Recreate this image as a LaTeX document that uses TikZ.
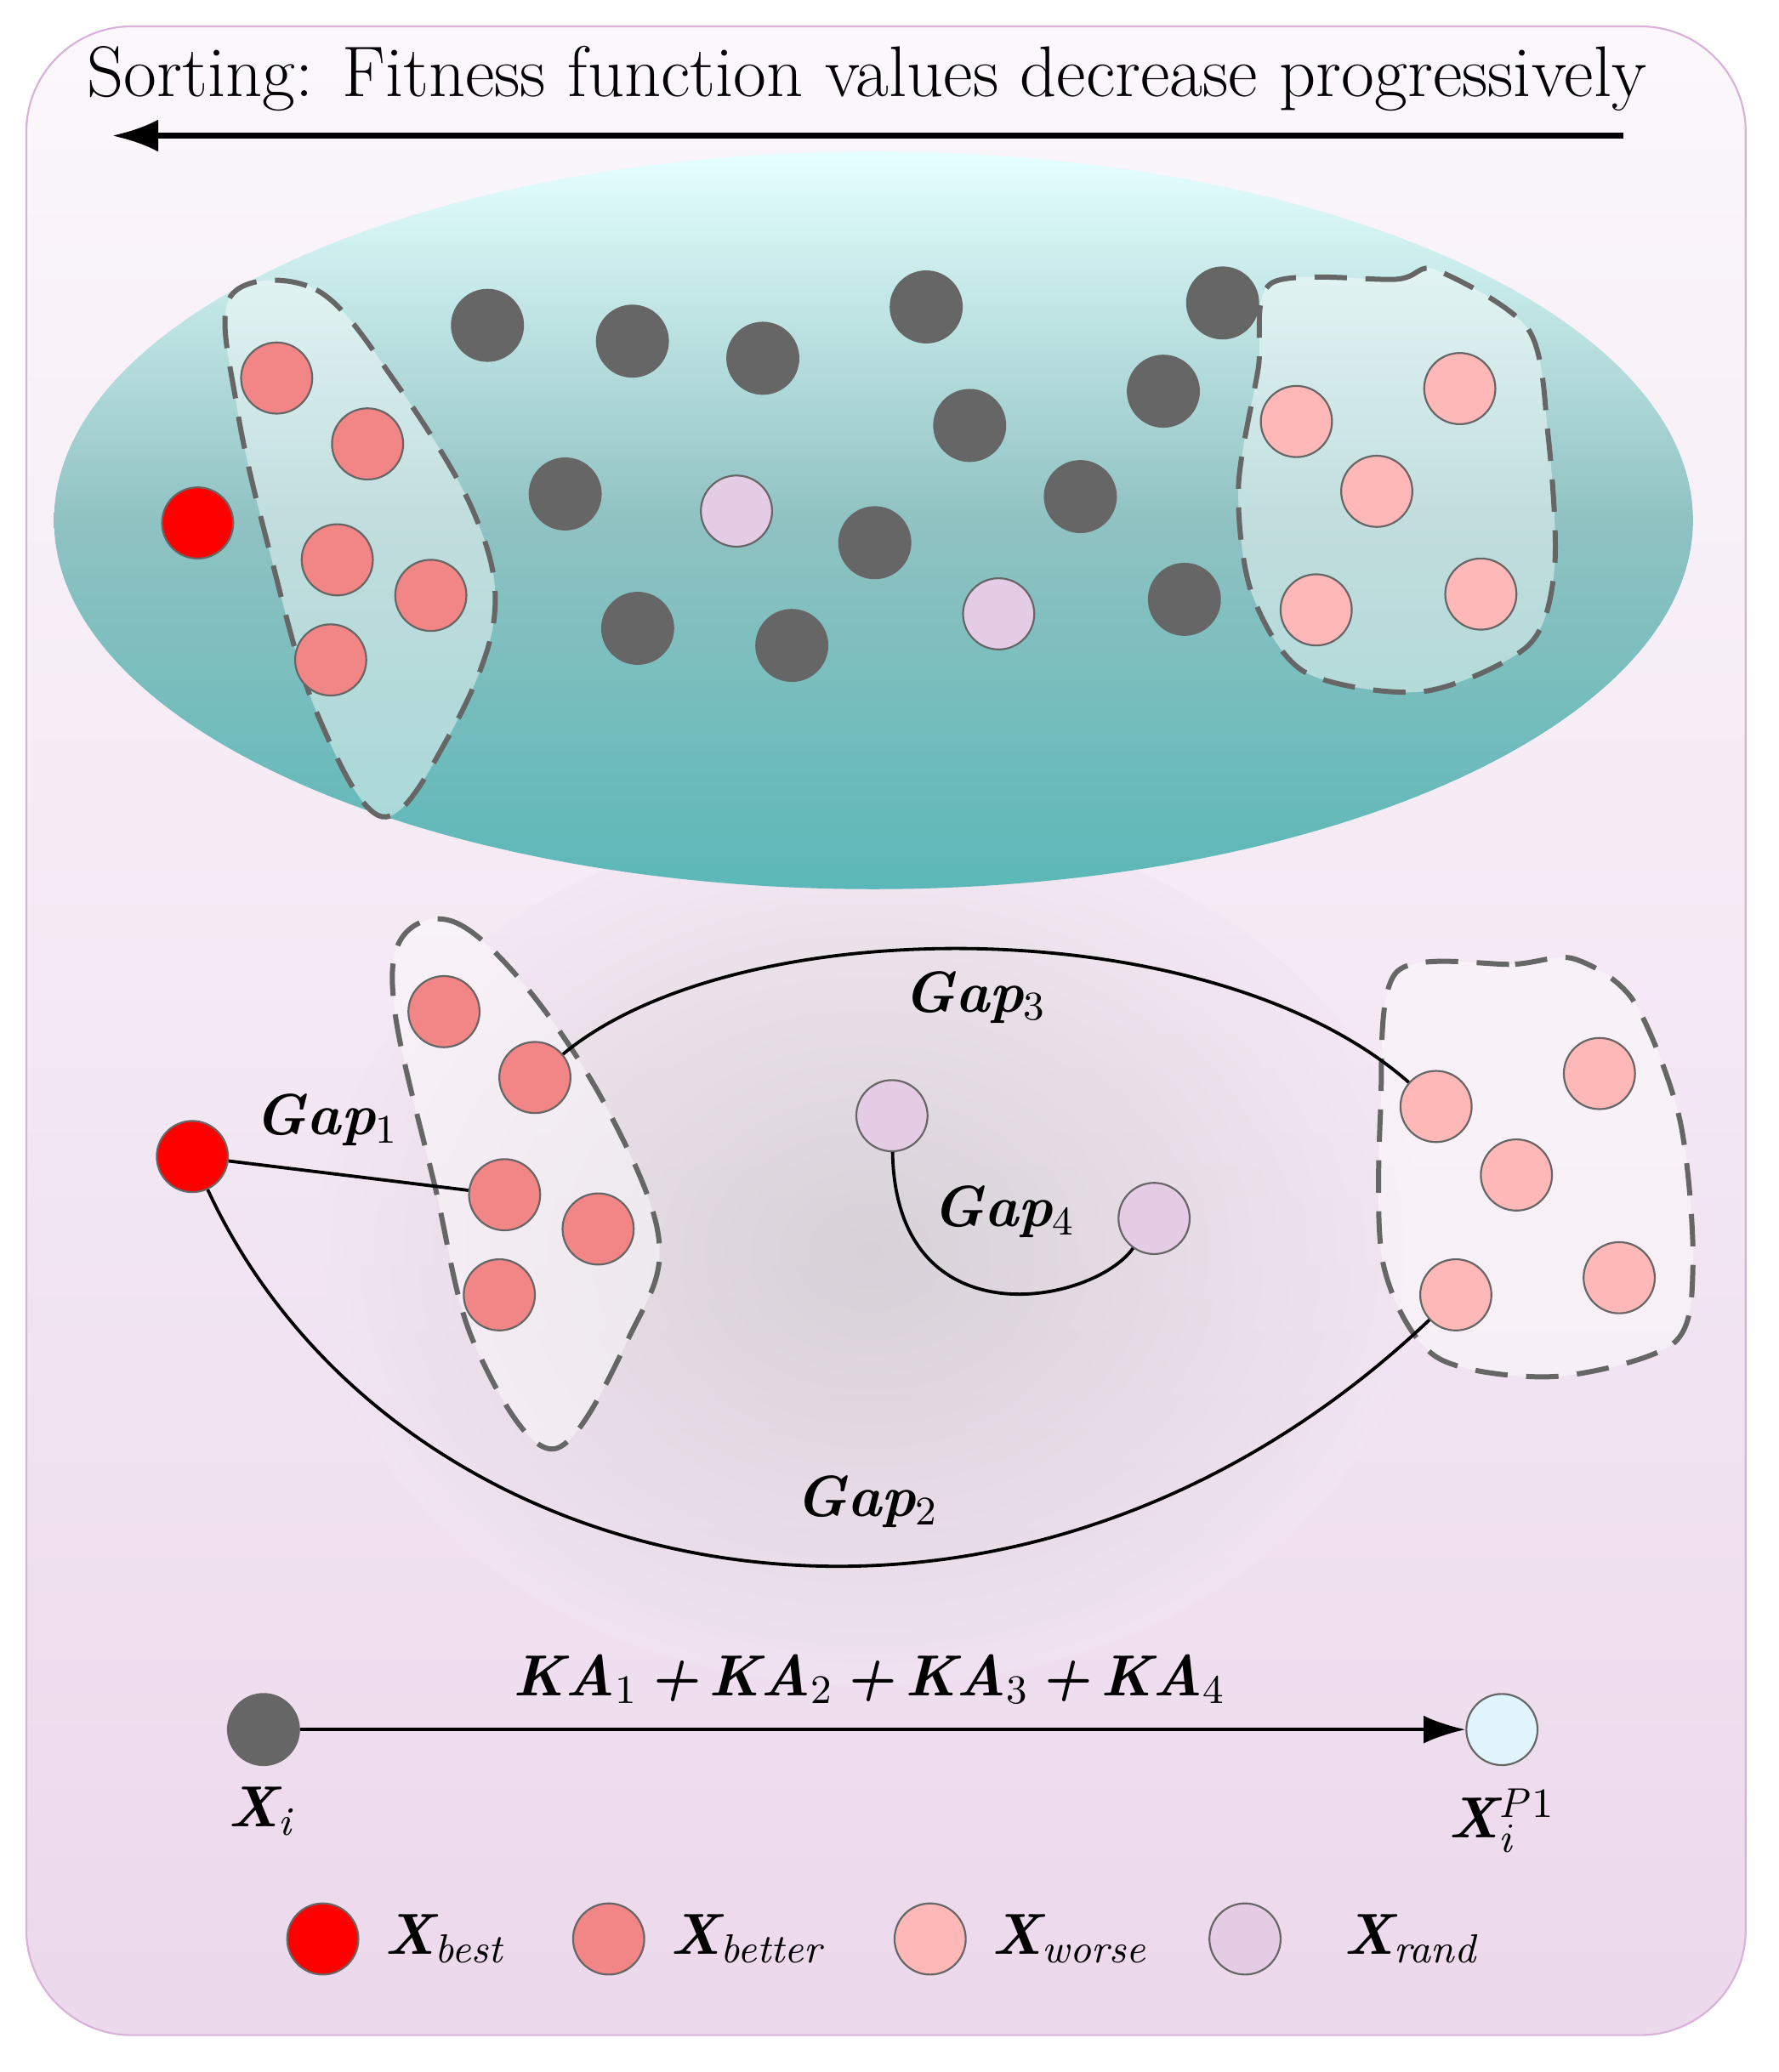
\documentclass[tikz,border=0pt]{standalone}
\usepackage{tikz}
\usetikzlibrary{arrows.meta,positioning,calc}
\begin{document}
\begin{tikzpicture}[x=0.01cm,y=-0.01cm,
  pt/.style={circle, draw=black!60, line width=0.4pt, minimum size=0.54cm, inner sep=0pt},
  best/.style={pt, fill=red},
  better/.style={pt, fill=red!45!white!95!black},
  worse/.style={pt, fill=red!28!white},
  rnd/.style={pt, fill=violet!20!white},
  dark/.style={pt, fill=black!60},
  blob/.style={dashed, dash pattern=on 7pt off 4pt, draw=black!60, line width=1.1pt, fill=white, fill opacity=0.45},
  gap/.style={font=\fontsize{12.5}{15}\selectfont\bfseries\itshape},
  gapline/.style={draw=black, line width=0.7pt}
]
\useasboundingbox (0,0) rectangle (1350,1573);
% frame
\draw[rounded corners=0.8cm, draw=violet!30, top color=white!97!violet, bottom color=violet!15] (20,20) rectangle (1325,1545);
\shade[inner color=black!25, outer color=violet!10, opacity=0.5] (660,950) ellipse (420 and 330);
% title
\node (title) at (658,60) {\fontsize{15.5}{18}\selectfont Sorting: Fitness function values decrease progressively};
\coordinate (sortR) at (1232,103);
\coordinate (sortL) at (85,103);
\draw[-{Latex[length=10pt,width=7pt]}, line width=1.3pt] (sortR) -- (sortL);
% population
\shade[top color=cyan!10, bottom color=cyan!50!teal!60!gray!80, middle color=cyan!45!teal!45!gray!60] (663,395) ellipse (622 and 280);
\draw[blob] plot[smooth cycle, tension=0.6] coordinates {(175,225) (240,220) (300,290) (360,390) (375,470) (340,560) (290,620) (240,540) (205,420) (180,310)};
\draw[blob] plot[smooth cycle, tension=0.5] coordinates {(965,215) (1060,212) (1090,205) (1160,250) (1175,330) (1180,430) (1160,490) (1080,525) (990,510) (950,450) (940,370) (955,280)};
\node[best] (b0) at (150,397) {};
\foreach \x/\y [count=\i] in {210/287, 279/337, 256/425, 327/452, 251/501}
  \node[better] (u\i) at (\x,\y) {};
\foreach \x/\y [count=\i] in {370/247, 480/259, 579/272, 703/233, 928/230, 883/297, 736/323, 429/375, 664/412, 820/377, 484/477, 601/490, 899/455}
  \node[dark] (d\i) at (\x,\y) {};
\node[rnd] (r1) at (559,388) {};
\node[rnd] (r2) at (758,466) {};
\foreach \x/\y [count=\i] in {984/320, 1108/295, 1045/373, 999/463, 1124/451}
  \node[worse] (w\i) at (\x,\y) {};
% gaps
\draw[blob] plot[smooth cycle, tension=0.6] coordinates {(305,712) (345,700) (400,750) (460,840) (500,940) (480,1010) (420,1100) (360,1020) (330,900) (300,770)};
\draw[blob] plot[smooth cycle, tension=0.5] coordinates {(1060,738) (1150,732) (1195,728) (1240,760) (1275,850) (1285,960) (1270,1020) (1180,1045) (1090,1030) (1050,960) (1048,840)};
\node[best] (gb) at (146,878) {};
\foreach \x/\y [count=\i] in {337/768, 406/818, 383/907, 454/933, 379/983}
  \node[better] (gu\i) at (\x,\y) {};
\foreach \x/\y [count=\i] in {1090/840, 1214/815, 1151/892, 1105/983, 1229/970}
  \node[worse] (gw\i) at (\x,\y) {};
\node[rnd] (gr1) at (677,847) {};
\node[rnd] (gr2) at (876,925) {};
\draw[gapline] (gb) -- (gu3);
\draw[gapline] (gu2) .. controls (560,690) and (920,690) .. (gw1);
\draw[gapline] (gb) .. controls (300,1210) and (760,1310) .. (gw4);
\draw[gapline] (gr1) .. controls (680,1020) and (830,990) .. (gr2);
\node[gap] (g1) at (248,850) {Gap\textsubscript{\normalfont 1}};
\node[gap] (g3) at (740,757) {Gap\textsubscript{\normalfont 3}};
\node[gap] (g4) at (762,920) {Gap\textsubscript{\normalfont 4}};
\node[gap] (g2) at (658,1140) {Gap\textsubscript{\normalfont 2}};
% update
\node[dark] (xi) at (200,1313) {};
\node[pt, fill=cyan!12] (xn) at (1140,1313) {};
\draw[-{Latex[length=9pt,width=6pt]}, line width=0.7pt] (xi) -- (xn);
\node[gap] (ka) at (660,1275) {KA\textsubscript{\normalfont 1}\,+\,KA\textsubscript{\normalfont 2}\,+\,KA\textsubscript{\normalfont 3}\,+\,KA\textsubscript{\normalfont 4}};
\node[gap] (xil) at (198,1375) {X\textsubscript{\mdseries\itshape i}};
\node[gap] (xnl) at (1140,1382) {X$_{\mathit{i}}^{\mathit{P}\mathrm{1}}$};
% legend
\node[best] (l1) at (245,1472) {};
\node[better] (l2) at (462,1472) {};
\node[worse] (l3) at (706,1472) {};
\node[rnd] (l4) at (945,1472) {};
\node[gap, right=2pt of l1] (t1) {X\textsubscript{\mdseries\itshape best}};
\node[gap, right=2pt of l2] (t2) {X\textsubscript{\mdseries\itshape better}};
\node[gap, right=2pt of l3] (t3) {X\textsubscript{\mdseries\itshape worse}};
\node[gap, right=10pt of l4] (t4) {X\textsubscript{\mdseries\itshape rand}};
\end{tikzpicture}
\end{document}
